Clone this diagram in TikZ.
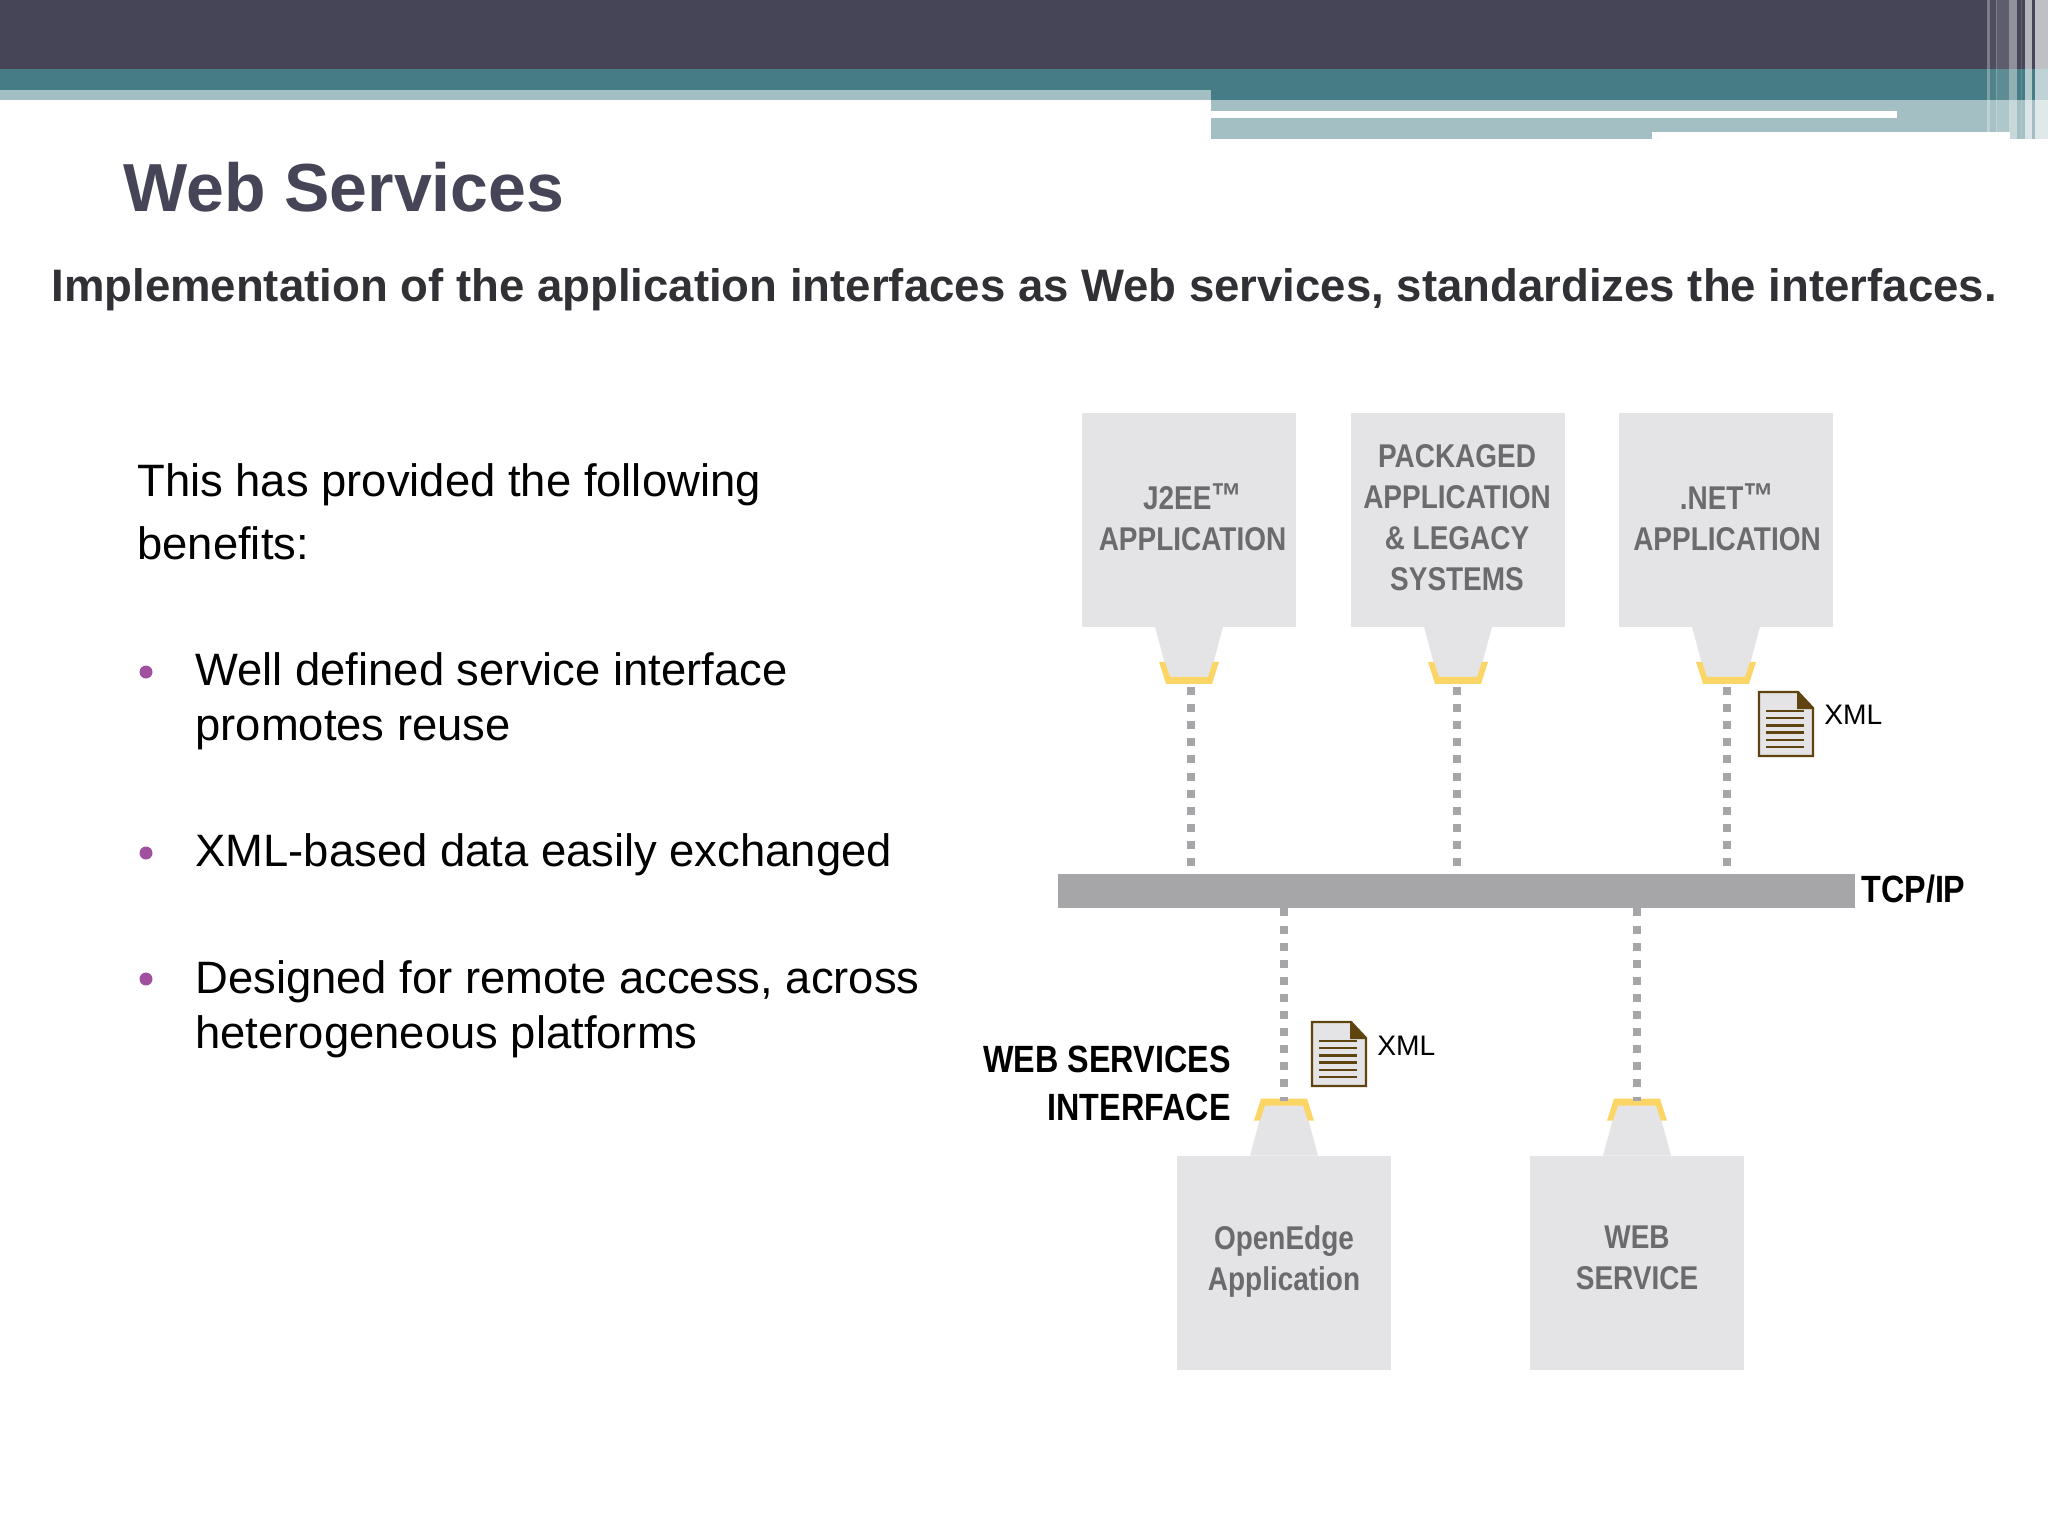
\documentclass[tikz,border=0pt]{standalone}
\usepackage{fontspec}
\setmainfont{Liberation Sans}
\newfontfamily\narrowbold[FakeStretch=0.85]{Liberation Sans Bold}
\usetikzlibrary{positioning}
\definecolor{headdark}{HTML}{464558}
\definecolor{headteal}{HTML}{467C85}
\definecolor{headlight}{HTML}{A3BFC4}
\definecolor{boxgray}{HTML}{E4E4E6}
\definecolor{busgray}{HTML}{A6A5A8}
\definecolor{labelgray}{HTML}{6B6B6E}
\definecolor{portyellow}{HTML}{FBD666}
\definecolor{docbrown}{HTML}{5F4410}
\definecolor{bulletpurple}{HTML}{A0509F}
\definecolor{subgray}{HTML}{303035}
\newcommand{\tmark}{\raisebox{0.6pt}{\fontsize{18}{18}\selectfont ™}}
\tikzset{
  appbox/.style={fill=boxgray, minimum width=107pt, minimum height=107pt, inner sep=0pt},
  applabel/.style={inner sep=0pt, align=center, text=labelgray, font=\narrowbold\fontsize{16.45}{20.5}\selectfont},
  blacklabel/.style={inner sep=0pt, text=black, font=\narrowbold\fontsize{19}{24}\selectfont},
  bodytext/.style={anchor=base west, inner sep=0pt, text=black, font=\fontsize{22.7}{23}\selectfont},
  bullet/.style={circle, fill=bulletpurple, minimum size=6.5pt, inner sep=0pt},
  dotline/.style={draw=busgray, line width=4pt, dash pattern=on 4pt off 4.55pt},
  xmllabel/.style={anchor=base west, inner sep=0pt, font=\fontsize{14.1}{14.1}\selectfont},
  strip/.style={fill=white, opacity=#1},
  xmldoc/.pic={
    \filldraw[fill=boxgray, draw=docbrown, line width=1.1pt] (-27,-32) -- (12,-32) -- (27,-16) -- (27,32) -- (-27,32) -- cycle;
    \fill[docbrown] (11,-33) -- (28,-15) -- (11,-15) -- cycle;
    \draw[docbrown, line width=1.15pt] (-20,-13) -- (18,-13);
    \draw[docbrown, line width=1.15pt] (-20,-5.8) -- (18,-5.8);
    \draw[docbrown, line width=1.15pt] (-20,1.4) -- (18,1.4);
    \draw[docbrown, line width=1.15pt] (-20,8.6) -- (18,8.6);
    \draw[docbrown, line width=1.15pt] (-20,15.8) -- (18,15.8);
    \draw[docbrown, line width=1.15pt] (-20,23) -- (18,23);
  },
  neckport/.pic={
    \fill[boxgray] (-34,0) -- (-20,52) -- (20,52) -- (34,0) -- cycle;
    \fill[portyellow] (-30,35) -- (-23,57) -- (23,57) -- (30,35) -- (24,35) -- (19,50) -- (-19,50) -- (-24,35) -- cycle;
  },
}

\begin{document}
\begin{tikzpicture}[x=0.5pt, y=-0.5pt]
\useasboundingbox (0,0) rectangle (2048,1536);

% header
\fill[headdark] (0,0) rectangle (2048,69);
\fill[headteal] (0,69) rectangle (2048,100);
\fill[headlight] (0,90) rectangle (1211,100);
\fill[headlight] (1211,100) rectangle (2048,132);
\fill[headlight] (1211,132) rectangle (1652,139);
\fill[headlight] (2010,132) rectangle (2048,139);
\fill[white] (1211,111) rectangle (1897,118);
\fill[strip=0.3] (1987,0) rectangle (1990,132);
\fill[strip=0.05] (1990,0) rectangle (1996,132);
\fill[strip=0.3] (1996,0) rectangle (1997,132);
\fill[strip=0.13] (1997,0) rectangle (2009,132);
\fill[strip=0.4] (2009,0) rectangle (2017,139);
\fill[strip=0.15] (2021,0) rectangle (2022,139);
\fill[strip=0.6] (2025,0) rectangle (2032,139);
\fill[strip=0.66] (2035,0) rectangle (2048,139);

% titles
\node[anchor=base west, inner sep=0pt, text=headdark, font=\bfseries\fontsize{34}{34}\selectfont] (title) at (123,211) {Web Services};
\node[anchor=base west, inner sep=0pt, text=subgray, font=\bfseries\fontsize{22.77}{23}\selectfont] (subtitle) at (51,301) {Implementation of the application interfaces as Web services, standardizes the interfaces.};

% left text
\node[bodytext] (intro) at (137,496) {This has provided the following};
\node[bodytext] (introb) at (137,559) {benefits:};
\node[bullet] (ba) at (146,672) {};
\node[bodytext] (aone) at (195,685) {Well defined service interface};
\node[bodytext] (atwo) at (195,740) {promotes reuse};
\node[bullet] (bb) at (146,853) {};
\node[bodytext] (bone) at (195,866) {XML-based data easily exchanged};
\node[bullet] (bc) at (146,979) {};
\node[bodytext] (cone) at (195,993) {Designed for remote access, across};
\node[bodytext] (ctwo) at (195,1048) {heterogeneous platforms};

% upper applications
\node[appbox] (j2ee) at (1189,519.5) {};
\node[appbox] (legacy) at (1458,519.5) {};
\node[appbox] (dotnet) at (1726,519.5) {};
\pic at (j2ee.south) {neckport};
\pic at (legacy.south) {neckport};
\pic at (dotnet.south) {neckport};
\node[applabel] (j2eetext) at (1192.5,517.5) {J2EE\tmark\\APPLICATION};
\node[applabel] (legacytext) at (1457,517.5) {PACKAGED\\APPLICATION\\\&\ LEGACY\\SYSTEMS};
\node[applabel] (dotnettext) at (1727,517.5) {.NET\tmark\\APPLICATION};

% bus
\node[fill=busgray, minimum width=398.5pt, minimum height=17pt, inner sep=0pt] (bus) at (1456.5,891) {};
\node[blacklabel, anchor=base west] (tcpip) at (1861,902) {TCP/IP};

% lower applications
\node[appbox] (openedge) at (1284,1263) {};
\node[appbox] (websvc) at (1637,1263) {};
\pic[yscale=-1] at (openedge.north) {neckport};
\pic[yscale=-1] at (websvc.north) {neckport};
\node[applabel] (openedgetext) at (1284,1261) {OpenEdge\\Application};
\node[applabel] (websvctext) at (1637,1258) {WEB\\SERVICE};

% connectors
\coordinate (j2eeport) at (1191,687);
\coordinate (legacyport) at (1457,687);
\coordinate (dotnetport) at (1727,687);
\coordinate (oeport) at (1284,1101);
\coordinate (wsport) at (1637,1101);
\draw[dotline] (j2eeport) -- (j2eeport |- bus.north);
\draw[dotline] (legacyport) -- (legacyport |- bus.north);
\draw[dotline] (dotnetport) -- (dotnetport |- bus.north);
\draw[dotline] (bus.south -| oeport) -- (oeport);
\draw[dotline] (bus.south -| wsport) -- (wsport);

% xml documents
\pic at (1786,724) {xmldoc};
\node[xmllabel] (xmla) at (1824,724) {XML};
\pic at (1339,1054) {xmldoc};
\node[xmllabel] (xmlb) at (1377,1055) {XML};

\node[blacklabel, align=right] (wsif) at (1107,1083.5) {WEB SERVICES\\INTERFACE};
\end{tikzpicture}
\end{document}
